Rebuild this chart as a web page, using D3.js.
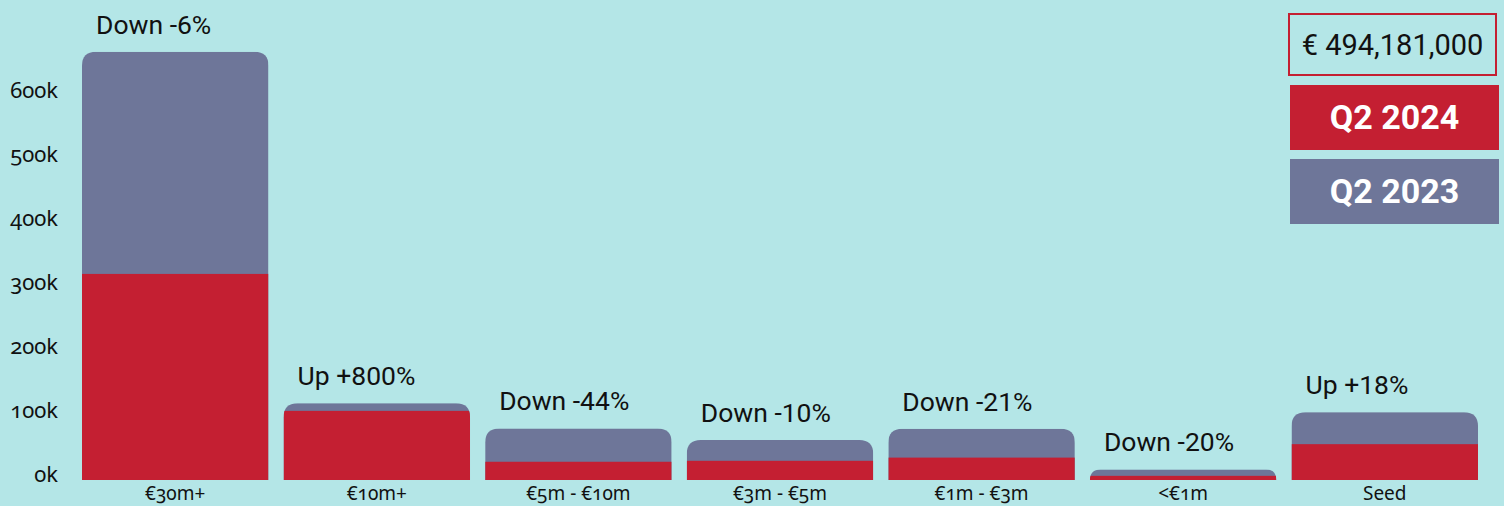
<!DOCTYPE html>
<html>
<head>
<meta charset="utf-8">
<script src="https://cdn.jsdelivr.net/npm/d3@7"></script>
<style>
  html, body { margin: 0; padding: 0; background: #b4e6e7; }
  svg { display: block; }
  .tick-label { font-family: "Noto Sans", "Open Sans", sans-serif; font-variant-numeric: oldstyle-nums; font-feature-settings: "onum" 1; fill: #111; }
  .change { font-family: Roboto, sans-serif; fill: #111; }
</style>
</head>
<body>
<svg id="chart" width="1504" height="506"></svg>
<script>
var categories = ["€30m+", "€10m+", "€5m - €10m", "€3m - €5m", "€1m - €3m", "<€1m", "Seed"];
var q2024 = [322, 108, 28.5, 30, 35, 6.5, 56];
var q2023 = [347, 12, 52, 32.5, 45, 10, 50];
var changes = ["Down -6%", "Up +800%", "Down -44%", "Down -10%", "Down -21%", "Down -20%", "Up +18%"];
var yTicks = [0, 100, 200, 300, 400, 500, 600];
var totalLabel = "€ 494,181,000";
var seriesNames = ["Q2 2024", "Q2 2023"];
var colors = ["#c41f32", "#6e7699"];

var svg, x, y, rows, bars, radius, roundTop, legend, defs;
svg = d3.select('#chart');

rows = categories.map(function(c, i){
  return { cat: c, a: q2024[i], b: q2023[i], change: changes[i], i: i };
});

x = d3.scaleBand().domain(categories).range([82, 1478]).paddingInner(0.075).paddingOuter(0);
y = d3.scaleLinear().domain([0, 600]).range([480, 96]);

radius = 14;
// path of a bar with only its top corners rounded
roundTop = function(x0, y0, w, h){
  var r = Math.min(radius, h, w / 2);
  return "M" + x0 + "," + (y0 + h)
    + "V" + (y0 + r)
    + "Q" + x0 + "," + y0 + " " + (x0 + r) + "," + y0
    + "H" + (x0 + w - r)
    + "Q" + (x0 + w) + "," + y0 + " " + (x0 + w) + "," + (y0 + r)
    + "V" + (y0 + h) + "Z";
};

// y axis labels
svg.append('g').selectAll('text').data(yTicks).enter().append('text')
  .attr('class', 'tick-label')
  .attr('x', 58)
  .attr('y', function(d){ return y(d) + 2; })
  .attr('text-anchor', 'end')
  .attr('font-size', 22)
  .text(function(d){ return d + "k"; });

defs = svg.append('defs');
defs.selectAll('clipPath').data(rows).enter().append('clipPath')
  .attr('id', function(d){ return "clip" + d.i; })
  .append('path')
  .attr('d', function(d){
    var top = y(d.a + d.b);
    return roundTop(x(d.cat), top, x.bandwidth(), y(0) - top);
  });

bars = svg.append('g').selectAll('g.bar').data(rows).enter().append('g')
  .attr('class', 'bar')
  .attr('clip-path', function(d){ return "url(#clip" + d.i + ")"; });

bars.append('rect')
  .attr('x', function(d){ return x(d.cat); })
  .attr('y', function(d){ return y(d.a + d.b); })
  .attr('width', x.bandwidth())
  .attr('height', function(d){ return y(0) - y(d.a + d.b); })
  .attr('fill', colors[1]);

bars.append('rect')
  .attr('x', function(d){ return x(d.cat); })
  .attr('y', function(d){ return y(d.a); })
  .attr('width', x.bandwidth())
  .attr('height', function(d){ return y(0) - y(d.a); })
  .attr('fill', colors[0]);

// change labels above bars
svg.append('g').selectAll('text').data(rows).enter().append('text')
  .attr('class', 'change')
  .attr('x', function(d){ return x(d.cat) + 14; })
  .attr('y', function(d){ return y(d.a + d.b) - 18; })
  .attr('font-size', 26.5)
  .text(function(d){ return d.change; });

// category labels
svg.append('g').selectAll('text').data(categories).enter().append('text')
  .attr('class', 'tick-label')
  .attr('x', function(d){ return x(d) + x.bandwidth() / 2; })
  .attr('y', 500)
  .attr('text-anchor', 'middle')
  .attr('font-size', 19)
  .text(function(d){ return d; });

// legend
legend = svg.append('g');
legend.append('rect')
  .attr('x', 1289).attr('y', 14).attr('width', 207).attr('height', 61)
  .attr('fill', 'none').attr('stroke', colors[0]).attr('stroke-width', 2);
legend.append('text')
  .attr('x', 1392.5).attr('y', 55)
  .attr('text-anchor', 'middle')
  .attr('font-family', 'Roboto, sans-serif')
  .attr('font-size', 29)
  .attr('fill', '#111')
  .text(totalLabel);

legend.selectAll('g.key').data(seriesNames).enter().append('g')
  .attr('class', 'key')
  .each(function(d, i){
    var g = d3.select(this), top = 85 + i * 74;
    g.append('rect')
      .attr('x', 1290).attr('y', top).attr('width', 209).attr('height', 65)
      .attr('fill', colors[i]);
    g.append('text')
      .attr('x', 1394.5).attr('y', top + 44)
      .attr('text-anchor', 'middle')
      .attr('font-family', 'Roboto, sans-serif')
      .attr('font-weight', 700)
      .attr('font-size', 34)
      .attr('fill', '#fff')
      .text(d);
  });
</script>
</body>
</html>
